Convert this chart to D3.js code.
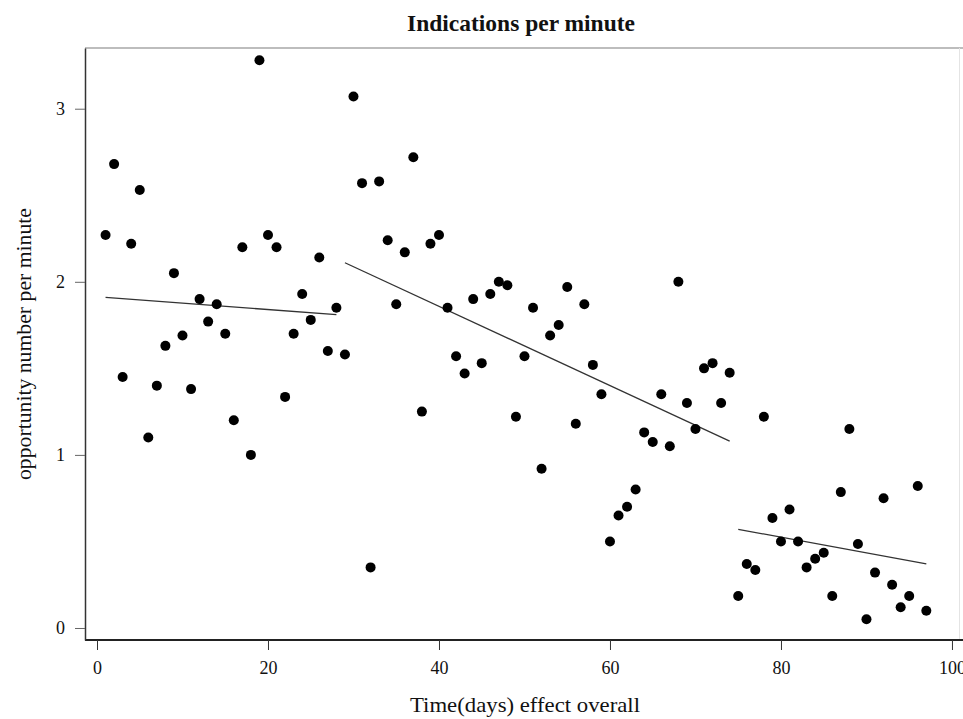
<!DOCTYPE html>
<html>
<head>
<meta charset="utf-8">
<script src="https://cdn.jsdelivr.net/npm/d3@7"></script>
<style>
  body { margin: 0; background: #fff; }
  text { font-family: "Liberation Serif", "Times New Roman", serif; fill: #111; }
</style>
</head>
<body>
<script>
//Define the SVG Height & Width
var svgWidth = 963;
var svgHeight = 719;

//Frame edges of the plot panel
var margin = { top: 48, left: 85, bottom: 79, right: 3 };

//Data: day number and opportunity count per minute
var days = [];
for (var i = 1; i <= 97; i++) days.push(i);
var values = [
    2.27, 2.68, 1.45, 2.22, 2.53, 1.10, 1.40, 1.63, 2.05, 1.69,
    1.38, 1.90, 1.77, 1.87, 1.70, 1.20, 2.20, 1.00, 3.28, 2.27,
    2.20, 1.335, 1.70, 1.93, 1.78, 2.14, 1.60, 1.85, 1.58, 3.07,
    2.57, 0.35, 2.58, 2.24, 1.87, 2.17, 2.72, 1.25, 2.22, 2.27,
    1.85, 1.57, 1.47, 1.90, 1.53, 1.93, 2.00, 1.98, 1.22, 1.57,
    1.85, 0.92, 1.69, 1.75, 1.97, 1.18, 1.87, 1.52, 1.35, 0.50,
    0.65, 0.70, 0.80, 1.13, 1.075, 1.35, 1.05, 2.00, 1.30, 1.15,
    1.50, 1.53, 1.30, 1.475, 0.185, 0.37, 0.335, 1.22, 0.635, 0.50,
    0.685, 0.50, 0.35, 0.40, 0.435, 0.185, 0.785, 1.15, 0.485, 0.05,
    0.32, 0.75, 0.25, 0.12, 0.185, 0.82, 0.10
];

//Fitted line segments for the three phases
var fitStartDay = [1, 29, 75];
var fitEndDay = [28, 74, 97];
var fitStartVal = [1.91, 2.11, 0.57];
var fitEndVal = [1.81, 1.08, 0.37];

//Tick labels
var xTicks = [0, 20, 40, 60, 80, 100];
var yTicks = [0, 1, 2, 3];

var chartWidth = svgWidth - margin.left - margin.right;
var chartHeight = svgHeight - margin.top - margin.bottom;

var svg = d3.select('body')
    .append('svg')
    .attr('width', svgWidth)
    .attr('height', svgHeight);

var chartGroup = svg.append('g')
    .attr('transform', `translate(${margin.left}, ${margin.top})`);

//Scales (0 day at x=97, 100 at x=952; 0 at y=628, 3 at y=109.6)
var xScale = d3.scaleLinear()
    .domain([-1.404, 100.94])
    .range([0, chartWidth]);
var yScale = d3.scaleLinear()
    .domain([-0.0694, 3.3507])
    .range([chartHeight, 0]);

//Panel frame: light top/right, dark left/bottom
chartGroup.append('line')
    .attr('x1', 0).attr('x2', chartWidth + 3)
    .attr('y1', 0).attr('y2', 0)
    .attr('stroke', '#bdbdbd').attr('stroke-width', 2);
chartGroup.append('line')
    .attr('x1', chartWidth - 0.5).attr('x2', chartWidth - 0.5)
    .attr('y1', 0).attr('y2', chartHeight)
    .attr('stroke', '#e4e4e4').attr('stroke-width', 1);

//Axes
var xAxis = d3.axisBottom(xScale).tickValues(xTicks).tickSize(10).tickSizeOuter(0)
    .tickFormat(d3.format('d'));
var yAxis = d3.axisLeft(yScale).tickValues(yTicks).tickSize(10).tickSizeOuter(0)
    .tickFormat(d3.format('d'));

var gx = chartGroup.append('g')
    .attr('transform', `translate(0, ${chartHeight})`)
    .call(xAxis);
gx.select('.domain').attr('stroke', '#222').attr('stroke-width', 2)
    .attr('d', `M0,0H${chartWidth + 3}`);
gx.selectAll('.tick line').attr('stroke', '#333');
gx.selectAll('.tick text')
    .attr('y', 21)
    .style('font-size', '18px')
    .style('font-family', '"Liberation Serif", serif')
    .attr('fill', '#111');

var gy = chartGroup.append('g').call(yAxis);
gy.select('.domain').attr('stroke', '#333').attr('stroke-width', 1.5);
gy.selectAll('.tick line').attr('stroke', '#666');
gy.selectAll('.tick text')
    .attr('x', -20)
    .style('font-size', '18px')
    .style('font-family', '"Liberation Serif", serif')
    .attr('fill', '#111');

//Fitted lines
chartGroup.selectAll('.fit')
    .data(fitStartDay)
    .enter()
    .append('line')
    .attr('class', 'fit')
    .attr('x1', (d, i) => xScale(fitStartDay[i]))
    .attr('y1', (d, i) => yScale(fitStartVal[i]))
    .attr('x2', (d, i) => xScale(fitEndDay[i]))
    .attr('y2', (d, i) => yScale(fitEndVal[i]))
    .attr('stroke', '#333')
    .attr('stroke-width', 1.3);

//Dots
chartGroup.selectAll('.dot')
    .data(values)
    .enter()
    .append('circle')
    .attr('class', 'dot')
    .attr('cx', (d, i) => xScale(days[i]))
    .attr('cy', d => yScale(d))
    .attr('r', 5)
    .style('fill', '#000');

//Titles
svg.append('text')
    .attr('x', 521)
    .attr('y', 31)
    .attr('text-anchor', 'middle')
    .attr('textLength', 228)
    .attr('lengthAdjust', 'spacingAndGlyphs')
    .style('font-size', '23px')
    .style('font-weight', 'bold')
    .text('Indications per minute');

svg.append('text')
    .attr('x', 525)
    .attr('y', 712)
    .attr('text-anchor', 'middle')
    .attr('textLength', 230)
    .attr('lengthAdjust', 'spacingAndGlyphs')
    .style('font-size', '22px')
    .text('Time(days) effect overall');

svg.append('text')
    .attr('transform', 'translate(31, 344) rotate(-90)')
    .attr('text-anchor', 'middle')
    .attr('textLength', 272)
    .attr('lengthAdjust', 'spacingAndGlyphs')
    .style('font-size', '21px')
    .text('opportunity number per minute');
</script>
</body>
</html>
